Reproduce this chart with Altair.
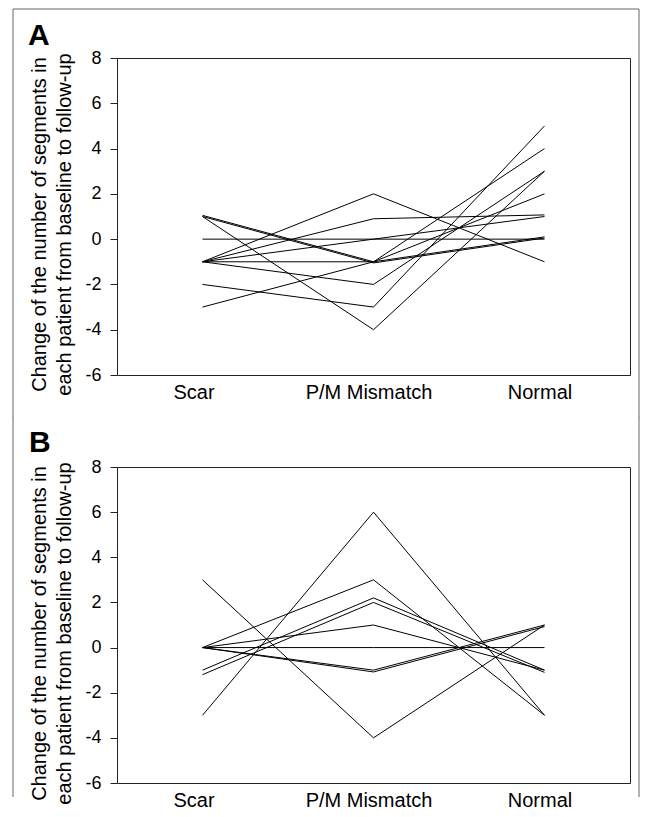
import altair as alt
import pandas as pd

# ---- data ----
categories = ["Scar", "P/M Mismatch", "Normal"]

# Panel A: one entry per patient
a_scar = [1.05, 1.0, 1.0, 0, -1, -1, -1, -1, -1, -2, -3]
a_pm = [-1.0, -1.05, -4, 0, 2, 0.9, 0, -1, -2, -3, -1]
a_normal = [0.1, 0.05, 3, 0, -1, 1.07, 1, 4, 3, 5, 2]

# Panel B: one entry per patient
b_scar = [3, -3, 0, -1, -1.2, 0, 0, 0, 0]
b_pm = [-4, 6, 3, 2.2, 2.0, 1, 0, -1, -1.08]
b_normal = [1, -3, -3, -1, -1.1, -1, 0, 1, 0.93]

y_ticks = [-6, -4, -2, 0, 2, 4, 6, 8]
y_title = ["Change of the number of segments in",
           "each patient from baseline to follow-up"]
panel_labels = ["A", "B"]

FONT = "Liberation Sans"


def to_long(scar, pm, normal):
    rows = []
    for i, vals in enumerate(zip(scar, pm, normal)):
        for j, v in enumerate(vals):
            rows.append({"patient": i, "stage": categories[j], "order": j, "value": v})
    return pd.DataFrame(rows)


dummy = pd.DataFrame({"d": [0]})

x_label_offset = {
    "condition": {"test": "datum.value === 'Scar'", "value": -9},
    "value": -5,
}

FRAME_RIGHT = 522


def panel(df, label, height, label_x, label_y, frame_top, frame_bottom, draw_top):
    lines = alt.Chart(df).mark_line(color="black", strokeWidth=1).encode(
        x=alt.X("stage:N", sort=categories,
                scale=alt.Scale(padding=0.5),
                axis=alt.Axis(title=None, labelAngle=0, ticks=False, tickSize=0,
                              domain=False, grid=False, labelPadding=7,
                              labelOffset=x_label_offset,
                              labelFontSize=20, labelFont=FONT, labelColor="black")),
        y=alt.Y("value:Q",
                scale=alt.Scale(domain=[-6, 8], nice=False, zero=False),
                axis=alt.Axis(values=y_ticks, title=y_title, grid=False, domain=False,
                              labelExpr="'' + datum.value",
                              tickSize=7, tickColor="#222", labelPadding=9,
                              labelFontSize=18, labelFont=FONT, labelColor="black",
                              titleFont=FONT, titleFontSize=20, titleFontWeight="normal",
                              titleColor="black", titleAngle=270, titleAlign="center",
                              titleBaseline="top", titleX=-88, titleY=166,
                              titleLineHeight=25)),
        detail="patient:N",
        order="order:Q",
    )
    text = alt.Chart(dummy).mark_text(
        text=label, fontSize=30, fontWeight="bold", font=FONT,
        align="left", baseline="alphabetic", color="black"
    ).encode(x=alt.value(label_x), y=alt.value(label_y))
    frame_color = "#666666"
    left = alt.Chart(dummy).mark_rule(color=frame_color, strokeWidth=1).encode(
        x=alt.value(-104), y=alt.value(frame_top), y2=alt.value(frame_bottom))
    right = alt.Chart(dummy).mark_rule(color=frame_color, strokeWidth=1).encode(
        x=alt.value(FRAME_RIGHT), y=alt.value(frame_top), y2=alt.value(frame_bottom))
    layers = [lines, text, left, right]
    if draw_top:
        top = alt.Chart(dummy).mark_rule(color=frame_color, strokeWidth=1).encode(
            x=alt.value(-104), x2=alt.value(FRAME_RIGHT), y=alt.value(frame_top))
        layers.append(top)
    return alt.layer(*layers).properties(width=513, height=height)


panel_a = panel(to_long(a_scar, a_pm, a_normal), panel_labels[0], 317, -89, -13, -49, 360, True)
panel_b = panel(to_long(b_scar, b_pm, b_normal), panel_labels[1], 316, -88, -15, -49.5, 330, False)

chart = alt.vconcat(panel_a, panel_b, spacing=-3).properties(
    padding={"left": 4, "top": 0, "right": 0, "bottom": 0},
    background="white",
).configure_view(stroke="#222222", strokeWidth=1)

chart.save("out.html", embed_options={"renderer": "svg", "actions": False})
